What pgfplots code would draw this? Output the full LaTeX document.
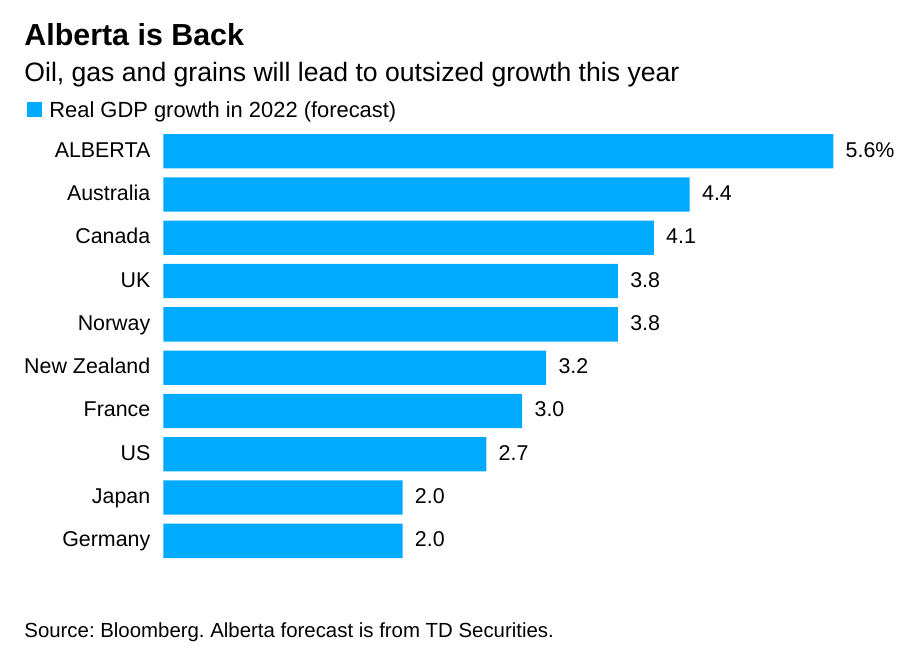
\documentclass[border=0pt]{standalone}
\usepackage{pgfplots}
\pgfplotsset{compat=1.18}
\usepackage{fontspec}
\setmainfont{Liberation Sans}
\frenchspacing
\definecolor{barblue}{RGB}{0,170,255}
\begin{document}
\begin{tikzpicture}[x=0.5pt,y=-0.5pt]
\path[use as bounding box] (0,0) rectangle (909,669);
\coordinate (axpos) at (163.3,129.5);
\node[anchor=base west,inner sep=0pt] at (24,45) {\fontsize{15.2}{18}\selectfont\bfseries Alberta is Back};
\node[anchor=base west,inner sep=0pt] at (24,81) {\fontsize{13.3}{16}\selectfont Oil, gas and grains will lead to outsized growth this year};
\fill[barblue] (27,102) rectangle (42,117);
\node[anchor=base west,inner sep=0pt] at (49,117) {\fontsize{10.95}{13}\selectfont Real GDP growth in 2022 (forecast)};
\node[anchor=base west,inner sep=0pt] at (24,637) {\fontsize{10.2}{12}\selectfont Source: Bloomberg. Alberta forecast is from TD Securities.};
\begin{axis}[
  at={(axpos)}, anchor=north west,
  scale only axis, width=335pt, height=216.5pt,
  xbar, bar width=17.15pt,
  xmin=0, xmax=5.6, ymin=-0.5, ymax=9.5,
  y dir=reverse,
  axis line style={draw=none},
  xtick=\empty,
  ytick={0,...,9},
  yticklabels={ALBERTA,Australia,Canada,UK,Norway,New Zealand,France,US,Japan,Germany},
  major tick length=0pt,
  yticklabel style={font=\fontsize{10.7}{12}\selectfont, anchor=base east, inner sep=0pt, xshift=-6.3pt, yshift=-3pt},
  clip=false,
  nodes near coords,
  point meta=explicit symbolic,
  every node near coord/.append style={font=\fontsize{10.7}{12}\selectfont, anchor=base west, inner sep=0pt, xshift=6pt, yshift=-3pt, text=black},
]
\addplot[fill=barblue, draw=none] table[meta=lab] {
x y lab
5.6 0 5.6\%
4.4 1 4.4
4.1 2 4.1
3.8 3 3.8
3.8 4 3.8
3.2 5 3.2
3.0 6 3.0
2.7 7 2.7
2.0 8 2.0
2.0 9 2.0
};
\end{axis}
\end{tikzpicture}
\end{document}
